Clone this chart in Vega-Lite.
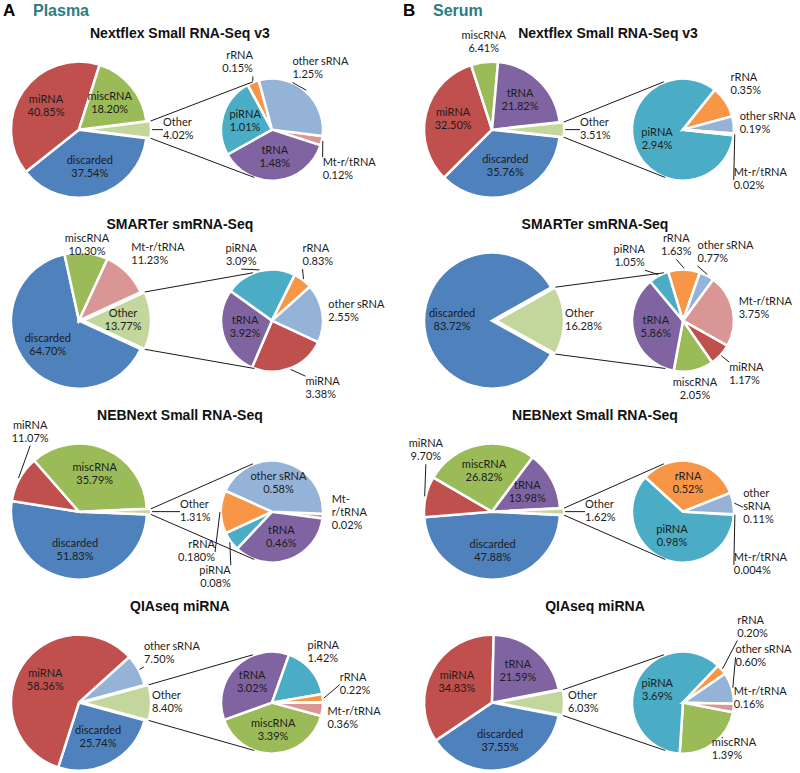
{
  "$schema": "https://vega.github.io/schema/vega-lite/v6.json",
  "background": "white",
  "padding": {"left": 0, "top": 2, "right": 0, "bottom": 0},
  "datasets": {
    "panels": [
      {"panel": "P1", "sample": "Plasma", "tag": "A", "kit": "Nextflex Small RNA-Seq v3"},
      {"panel": "S1", "sample": "Serum", "tag": "B", "kit": "Nextflex Small RNA-Seq v3"},
      {"panel": "P2", "sample": "Plasma", "tag": "A", "kit": "SMARTer smRNA-Seq"},
      {"panel": "S2", "sample": "Serum", "tag": "B", "kit": "SMARTer smRNA-Seq"},
      {"panel": "P3", "sample": "Plasma", "tag": "A", "kit": "NEBNext Small RNA-Seq"},
      {"panel": "S3", "sample": "Serum", "tag": "B", "kit": "NEBNext Small RNA-Seq"},
      {"panel": "P4", "sample": "Plasma", "tag": "A", "kit": "QIAseq miRNA"},
      {"panel": "S4", "sample": "Serum", "tag": "B", "kit": "QIAseq miRNA"}
    ]
  },
  "data": {"values": [
    {"panel": "P1", "pie": "main", "cat": "discarded", "value": 37.54, "pct": "37.54%"},
    {"panel": "P1", "pie": "main", "cat": "miRNA", "value": 40.85, "pct": "40.85%"},
    {"panel": "P1", "pie": "main", "cat": "miscRNA", "value": 18.20, "pct": "18.20%"},
    {"panel": "P1", "pie": "main", "cat": "Other", "value": 4.02, "pct": "4.02%"},
    {"panel": "P1", "pie": "sub", "cat": "Mt-r/tRNA", "value": 0.12, "pct": "0.12%"},
    {"panel": "P1", "pie": "sub", "cat": "tRNA", "value": 1.48, "pct": "1.48%"},
    {"panel": "P1", "pie": "sub", "cat": "piRNA", "value": 1.01, "pct": "1.01%"},
    {"panel": "P1", "pie": "sub", "cat": "rRNA", "value": 0.15, "pct": "0.15%"},
    {"panel": "P1", "pie": "sub", "cat": "other sRNA", "value": 1.25, "pct": "1.25%"},
    {"panel": "S1", "pie": "main", "cat": "discarded", "value": 35.76, "pct": "35.76%"},
    {"panel": "S1", "pie": "main", "cat": "miRNA", "value": 32.50, "pct": "32.50%"},
    {"panel": "S1", "pie": "main", "cat": "miscRNA", "value": 6.41, "pct": "6.41%"},
    {"panel": "S1", "pie": "main", "cat": "tRNA", "value": 21.82, "pct": "21.82%"},
    {"panel": "S1", "pie": "main", "cat": "Other", "value": 3.51, "pct": "3.51%"},
    {"panel": "S1", "pie": "sub", "cat": "piRNA", "value": 2.94, "pct": "2.94%"},
    {"panel": "S1", "pie": "sub", "cat": "rRNA", "value": 0.35, "pct": "0.35%"},
    {"panel": "S1", "pie": "sub", "cat": "other sRNA", "value": 0.19, "pct": "0.19%"},
    {"panel": "S1", "pie": "sub", "cat": "Mt-r/tRNA", "value": 0.02, "pct": "0.02%"},
    {"panel": "P2", "pie": "main", "cat": "discarded", "value": 64.70, "pct": "64.70%"},
    {"panel": "P2", "pie": "main", "cat": "miscRNA", "value": 10.30, "pct": "10.30%"},
    {"panel": "P2", "pie": "main", "cat": "Mt-r/tRNA", "value": 11.23, "pct": "11.23%"},
    {"panel": "P2", "pie": "main", "cat": "Other", "value": 13.77, "pct": "13.77%"},
    {"panel": "P2", "pie": "sub", "cat": "miRNA", "value": 3.38, "pct": "3.38%"},
    {"panel": "P2", "pie": "sub", "cat": "tRNA", "value": 3.92, "pct": "3.92%"},
    {"panel": "P2", "pie": "sub", "cat": "piRNA", "value": 3.09, "pct": "3.09%"},
    {"panel": "P2", "pie": "sub", "cat": "rRNA", "value": 0.83, "pct": "0.83%"},
    {"panel": "P2", "pie": "sub", "cat": "other sRNA", "value": 2.55, "pct": "2.55%"},
    {"panel": "S2", "pie": "main", "cat": "discarded", "value": 83.72, "pct": "83.72%"},
    {"panel": "S2", "pie": "main", "cat": "Other", "value": 16.28, "pct": "16.28%"},
    {"panel": "S2", "pie": "sub", "cat": "miRNA", "value": 1.17, "pct": "1.17%"},
    {"panel": "S2", "pie": "sub", "cat": "miscRNA", "value": 2.05, "pct": "2.05%"},
    {"panel": "S2", "pie": "sub", "cat": "tRNA", "value": 5.86, "pct": "5.86%"},
    {"panel": "S2", "pie": "sub", "cat": "piRNA", "value": 1.05, "pct": "1.05%"},
    {"panel": "S2", "pie": "sub", "cat": "rRNA", "value": 1.63, "pct": "1.63%"},
    {"panel": "S2", "pie": "sub", "cat": "other sRNA", "value": 0.77, "pct": "0.77%"},
    {"panel": "S2", "pie": "sub", "cat": "Mt-r/tRNA", "value": 3.75, "pct": "3.75%"},
    {"panel": "P3", "pie": "main", "cat": "discarded", "value": 51.83, "pct": "51.83%"},
    {"panel": "P3", "pie": "main", "cat": "miRNA", "value": 11.07, "pct": "11.07%"},
    {"panel": "P3", "pie": "main", "cat": "miscRNA", "value": 35.79, "pct": "35.79%"},
    {"panel": "P3", "pie": "main", "cat": "Other", "value": 1.31, "pct": "1.31%"},
    {"panel": "P3", "pie": "sub", "cat": "Mt-r/tRNA", "value": 0.02, "pct": "0.02%"},
    {"panel": "P3", "pie": "sub", "cat": "tRNA", "value": 0.46, "pct": "0.46%"},
    {"panel": "P3", "pie": "sub", "cat": "piRNA", "value": 0.08, "pct": "0.08%"},
    {"panel": "P3", "pie": "sub", "cat": "rRNA", "value": 0.18, "pct": "0.180%"},
    {"panel": "P3", "pie": "sub", "cat": "other sRNA", "value": 0.58, "pct": "0.58%"},
    {"panel": "S3", "pie": "main", "cat": "discarded", "value": 47.88, "pct": "47.88%"},
    {"panel": "S3", "pie": "main", "cat": "miRNA", "value": 9.70, "pct": "9.70%"},
    {"panel": "S3", "pie": "main", "cat": "miscRNA", "value": 26.82, "pct": "26.82%"},
    {"panel": "S3", "pie": "main", "cat": "tRNA", "value": 13.98, "pct": "13.98%"},
    {"panel": "S3", "pie": "main", "cat": "Other", "value": 1.62, "pct": "1.62%"},
    {"panel": "S3", "pie": "sub", "cat": "Mt-r/tRNA", "value": 0.004, "pct": "0.004%"},
    {"panel": "S3", "pie": "sub", "cat": "piRNA", "value": 0.98, "pct": "0.98%"},
    {"panel": "S3", "pie": "sub", "cat": "rRNA", "value": 0.52, "pct": "0.52%"},
    {"panel": "S3", "pie": "sub", "cat": "other sRNA", "value": 0.11, "pct": "0.11%"},
    {"panel": "P4", "pie": "main", "cat": "discarded", "value": 25.74, "pct": "25.74%"},
    {"panel": "P4", "pie": "main", "cat": "miRNA", "value": 58.36, "pct": "58.36%"},
    {"panel": "P4", "pie": "main", "cat": "other sRNA", "value": 7.50, "pct": "7.50%"},
    {"panel": "P4", "pie": "main", "cat": "Other", "value": 8.40, "pct": "8.40%"},
    {"panel": "P4", "pie": "sub", "cat": "miscRNA", "value": 3.39, "pct": "3.39%"},
    {"panel": "P4", "pie": "sub", "cat": "tRNA", "value": 3.02, "pct": "3.02%"},
    {"panel": "P4", "pie": "sub", "cat": "piRNA", "value": 1.42, "pct": "1.42%"},
    {"panel": "P4", "pie": "sub", "cat": "rRNA", "value": 0.22, "pct": "0.22%"},
    {"panel": "P4", "pie": "sub", "cat": "Mt-r/tRNA", "value": 0.36, "pct": "0.36%"},
    {"panel": "S4", "pie": "main", "cat": "discarded", "value": 37.55, "pct": "37.55%"},
    {"panel": "S4", "pie": "main", "cat": "miRNA", "value": 34.83, "pct": "34.83%"},
    {"panel": "S4", "pie": "main", "cat": "tRNA", "value": 21.59, "pct": "21.59%"},
    {"panel": "S4", "pie": "main", "cat": "Other", "value": 6.03, "pct": "6.03%"},
    {"panel": "S4", "pie": "sub", "cat": "miscRNA", "value": 1.39, "pct": "1.39%"},
    {"panel": "S4", "pie": "sub", "cat": "piRNA", "value": 3.69, "pct": "3.69%"},
    {"panel": "S4", "pie": "sub", "cat": "rRNA", "value": 0.20, "pct": "0.20%"},
    {"panel": "S4", "pie": "sub", "cat": "other sRNA", "value": 0.60, "pct": "0.60%"},
    {"panel": "S4", "pie": "sub", "cat": "Mt-r/tRNA", "value": 0.16, "pct": "0.16%"}
  ]},
  "transform": [
    {"lookup": "panel", "from": {"data": {"name": "panels"}, "key": "panel", "fields": ["sample", "tag", "kit"]}},
    {"window": [{"op": "row_number", "as": "rn"}], "groupby": ["panel", "pie"]},
    {"stack": "value", "groupby": ["panel", "pie"], "sort": [{"field": "rn", "order": "ascending"}], "offset": "normalize", "as": ["v0", "v1"]},
    {"calculate": "datum.pie == 'main' ? datum.value : 0", "as": "mv"},
    {"calculate": "datum.pie == 'main' && datum.cat == 'Other' ? datum.value : 0", "as": "ov"},
    {"joinaggregate": [{"op": "sum", "field": "mv", "as": "M"}, {"op": "sum", "field": "ov", "as": "O"}], "groupby": ["panel"]},
    {"calculate": "datum.O / datum.M", "as": "f"},
    {"calculate": "0.25 + datum.f / 2", "as": "s"},
    {"calculate": "datum.s + datum.v0", "as": "t0"},
    {"calculate": "datum.s + datum.v1", "as": "t1"},
    {"calculate": "datum.s + (datum.v0 + datum.v1) / 2", "as": "tm"},
    {"calculate": "datum.sample == 'Plasma' ? -0.074 : 0.118", "as": "mcx"},
    {"calculate": "datum.sample == 'Plasma' ? 2.765 : 2.926", "as": "scx"},
    {"calculate": "datum.sample == 'Plasma' ? 1.41 : (datum.panel == 'S1' ? 1.824 : 1.632)", "as": "tx"},
    {"calculate": "datum.pie == 'main' ? datum.mcx + (datum.cat == 'Other' ? 0.06 : 0) : datum.scx", "as": "cxp"},
    {"calculate": "datum.cxp + cos(PI * datum.f)", "as": "cxu"},
    {"calculate": "sin(PI * datum.f)", "as": "cyu"},
    {"calculate": "-sin(PI * datum.f)", "as": "cyl"},
    {"calculate": "datum.scx - 0.28", "as": "ux2"},
    {"calculate": "datum.scx - 0.26", "as": "lx2"},
    {"calculate": "sin(2 * PI * datum.tm)", "as": "sx"},
    {"calculate": "cos(2 * PI * datum.tm)", "as": "cy"},
    {"calculate": "datum.panel + '|' + datum.cat", "as": "k"},
    {"calculate": "({'P1|Other':[6,0],'P1|rRNA':[2,0],'P1|other sRNA':[-17,-4],'P1|Mt-r/tRNA':[-5,15,'left','top'],'S1|miscRNA':[0,0],'S1|Other':[10,0],'S1|Mt-r/tRNA':[-6,45],'P2|miscRNA':[0,12],'P2|piRNA':[-17,4],'P2|rRNA':[-4,-6],'P2|miRNA':[13,2],'S2|Other':[-5,0],'S2|miRNA':[4,3],'S2|rRNA':[-8,-4],'S2|other sRNA':[-12,-4],'S2|piRNA':[-11,0],'P3|miRNA':[16,-30,'center','bottom'],'P3|Other':[23,0],'P3|rRNA':[0,40],'P3|piRNA':[5,20],'P3|Mt-r/tRNA':[3,-3],'S3|miRNA':[6,-31,'center','bottom'],'S3|Other':[15,0],'S3|Mt-r/tRNA':[-6,50],'S3|other sRNA':[4,5],'P4|Other':[-5,0],'P4|piRNA':[-8,0],'P4|rRNA':[11,-13],'P4|Mt-r/tRNA':[-1,-4,'left','top'],'S4|Other':[-2,0],'S4|miscRNA':[-6,-11],'S4|rRNA':[11,-25],'S4|other sRNA':[-2,-29],'S4|Mt-r/tRNA':[-6,-10]})[datum.k] || [0, 0]", "as": "nd"},
    {"calculate": "datum.nd[2] || (datum.sx > 0.35 ? 'left' : (datum.sx < -0.35 ? 'right' : 'center'))", "as": "al"},
    {"calculate": "datum.nd[3] || (datum.cy > 0.35 ? 'bottom' : (datum.cy < -0.35 ? 'top' : 'middle'))", "as": "bl"},
    {"calculate": "datum.pie == 'main' ? 1 : 0.75", "as": "Rp"},
    {"calculate": "datum.cxp + (datum.Rp + 0.088) * datum.sx + datum.nd[0] / 68", "as": "lx"},
    {"calculate": "(datum.Rp + 0.088) * datum.cy - datum.nd[1] / 68.36", "as": "ly"},
    {"calculate": "datum.cxp + (datum.Rp + 0.015) * datum.sx", "as": "ex"},
    {"calculate": "(datum.Rp + 0.015) * datum.cy", "as": "ey"},
    {"calculate": "indexof(['P1|discarded','P1|miRNA','P1|miscRNA','P1|tRNA','P1|piRNA','S1|discarded','S1|miRNA','S1|tRNA','S1|piRNA','P2|discarded','P2|Other','P2|tRNA','S2|discarded','S2|tRNA','P3|discarded','P3|miscRNA','P3|tRNA','P3|other sRNA','S3|discarded','S3|miscRNA','S3|tRNA','S3|piRNA','S3|rRNA','P4|discarded','P4|miRNA','P4|miscRNA','P4|tRNA','S4|discarded','S4|miRNA','S4|tRNA','S4|piRNA'], datum.k) >= 0", "as": "inside"},
    {"calculate": "indexof(['P1|Other','P1|rRNA','P1|other sRNA','P1|Mt-r/tRNA','S1|Other','S1|Mt-r/tRNA','P2|piRNA','P2|rRNA','P2|miRNA','S2|piRNA','S2|rRNA','S2|other sRNA','S2|miRNA','P3|miRNA','P3|Other','P3|rRNA','P3|piRNA','S3|miRNA','S3|Other','S3|other sRNA','S3|Mt-r/tRNA','P4|other sRNA','P4|rRNA','S4|rRNA','S4|other sRNA'], datum.k) >= 0", "as": "lead"},
    {"calculate": "datum.k == 'S3|other sRNA' ? 'other\\nsRNA\\n' + datum.pct : (datum.k == 'P3|Mt-r/tRNA' ? 'Mt-\\nr/tRNA\\n' + datum.pct : datum.cat + '\\n' + datum.pct)", "as": "lbl"},
    {"calculate": "datum.k == 'S3|other sRNA' || datum.k == 'P3|Mt-r/tRNA' ? 3 : 2", "as": "nl"},
    {"calculate": "datum.bl == 'bottom' ? -13 * datum.nl : (datum.bl == 'top' ? 0 : -6.5 * datum.nl)", "as": "tdy"}
  ],
  "facet": {
    "row": {"field": "kit", "type": "nominal", "sort": ["Nextflex Small RNA-Seq v3", "SMARTer smRNA-Seq", "NEBNext Small RNA-Seq", "QIAseq miRNA"], "header": null},
    "column": {"field": "sample", "type": "nominal", "sort": ["Plasma", "Serum"], "header": null}
  },
  "bounds": "flush",
  "spacing": {"row": 0, "column": 10},
  "spec": {
    "width": 390,
    "height": 191,
    "layer": [
      {
        "transform": [{"filter": "datum.pie == 'main'"}],
        "mark": {"type": "arc", "outerRadius": 68, "stroke": "white", "strokeWidth": 2.5},
        "encoding": {
          "x": {"field": "cxp", "type": "quantitative", "stack": null, "scale": {"domain": [-1.235, 4.5], "nice": false, "zero": false}, "axis": null},
          "y": {"datum": 0, "type": "quantitative", "scale": {"domain": [-1.0, 1.794], "nice": false, "zero": false}, "axis": null},
          "theta": {"field": "t0", "type": "quantitative", "stack": null, "scale": {"domain": [0, 1], "nice": false, "zero": false}},
          "theta2": {"field": "t1"},
          "color": {"field": "cat", "type": "nominal", "legend": null,
            "scale": {"domain": ["discarded", "miRNA", "miscRNA", "Other", "tRNA", "piRNA", "rRNA", "other sRNA", "Mt-r/tRNA"],
                      "range": ["#4F81BD", "#C0504D", "#9BBB59", "#C3D69B", "#8064A2", "#4BACC6", "#F79646", "#95B3D7", "#D99694"]}}
        }
      },
      {
        "transform": [{"filter": "datum.pie == 'sub'"}],
        "mark": {"type": "arc", "outerRadius": 51, "stroke": "white", "strokeWidth": 2.5},
        "encoding": {
          "x": {"field": "cxp", "type": "quantitative", "stack": null},
          "y": {"datum": 0, "type": "quantitative"},
          "theta": {"field": "t0", "type": "quantitative", "stack": null},
          "theta2": {"field": "t1"},
          "color": {"field": "cat", "type": "nominal", "legend": null}
        }
      },
      {
        "transform": [{"filter": "datum.pie == 'main' && datum.cat == 'Other'"}],
        "mark": {"type": "rule", "color": "#1a1a1a", "strokeWidth": 1},
        "encoding": {
          "x": {"field": "cxu", "type": "quantitative"},
          "y": {"field": "cyu", "type": "quantitative"},
          "x2": {"field": "ux2"},
          "y2": {"datum": 0.70}
        }
      },
      {
        "transform": [{"filter": "datum.pie == 'main' && datum.cat == 'Other'"}],
        "mark": {"type": "rule", "color": "#1a1a1a", "strokeWidth": 1},
        "encoding": {
          "x": {"field": "cxu", "type": "quantitative"},
          "y": {"field": "cyl", "type": "quantitative"},
          "x2": {"field": "lx2"},
          "y2": {"datum": -0.70}
        }
      },
      {
        "transform": [{"filter": "datum.lead && !datum.inside"}],
        "mark": {"type": "rule", "color": "#1a1a1a", "strokeWidth": 1},
        "encoding": {
          "x": {"field": "ex", "type": "quantitative"},
          "y": {"field": "ey", "type": "quantitative"},
          "x2": {"field": "lx"},
          "y2": {"field": "ly"}
        }
      },
      {
        "transform": [{"filter": "datum.pie == 'main' && datum.inside"}],
        "mark": {"type": "text", "radius": 40, "font": "Lato", "fontSize": 11, "lineBreak": "\n", "lineHeight": 13, "color": "#1c1c1c", "align": "center", "baseline": "top", "dy": -13},
        "encoding": {
          "x": {"field": "cxp", "type": "quantitative", "stack": null},
          "y": {"datum": 0, "type": "quantitative"},
          "theta": {"field": "tm", "type": "quantitative", "stack": null},
          "text": {"field": "lbl", "type": "nominal"}
        }
      },
      {
        "transform": [{"filter": "datum.pie == 'sub' && datum.inside"}],
        "mark": {"type": "text", "radius": 28, "font": "Lato", "fontSize": 11, "lineBreak": "\n", "lineHeight": 13, "color": "#1c1c1c", "align": "center", "baseline": "top", "dy": -13},
        "encoding": {
          "x": {"field": "cxp", "type": "quantitative", "stack": null},
          "y": {"datum": 0, "type": "quantitative"},
          "theta": {"field": "tm", "type": "quantitative", "stack": null},
          "text": {"field": "lbl", "type": "nominal"}
        }
      },
      {
        "transform": [{"filter": "!datum.inside"}],
        "mark": {"type": "text", "font": "Lato", "fontSize": 11, "lineBreak": "\n", "lineHeight": 13, "color": "#1c1c1c", "align": {"expr": "datum.al"}, "baseline": "top", "dy": {"expr": "datum.tdy"}},
        "encoding": {
          "x": {"field": "lx", "type": "quantitative", "stack": null},
          "y": {"field": "ly", "type": "quantitative", "stack": null},
          "text": {"field": "lbl", "type": "nominal"}
        }
      },
      {
        "transform": [{"filter": "datum.pie == 'main' && datum.cat == 'Other'"}],
        "mark": {"type": "text", "font": "Liberation Sans", "fontWeight": "bold", "fontSize": 14, "color": "#111111", "align": "center", "baseline": "middle"},
        "encoding": {
          "x": {"field": "tx", "type": "quantitative", "stack": null},
          "y": {"datum": 1.398, "type": "quantitative"},
          "text": {"field": "kit", "type": "nominal"}
        }
      },
      {
        "transform": [{"filter": "datum.pie == 'main' && datum.cat == 'Other' && datum.kit == 'Nextflex Small RNA-Seq v3'"}],
        "mark": {"type": "text", "font": "Liberation Sans", "fontWeight": "bold", "fontSize": 17, "color": "#000000", "align": "left", "baseline": "alphabetic"},
        "encoding": {
          "x": {"datum": -1.19, "type": "quantitative"},
          "y": {"datum": 1.662, "type": "quantitative"},
          "text": {"field": "tag", "type": "nominal"}
        }
      },
      {
        "transform": [{"filter": "datum.pie == 'main' && datum.cat == 'Other' && datum.kit == 'Nextflex Small RNA-Seq v3'"}],
        "mark": {"type": "text", "font": "Liberation Sans", "fontWeight": "bold", "fontSize": 16, "color": "#2A7C84", "align": "left", "baseline": "alphabetic"},
        "encoding": {
          "x": {"datum": -0.75, "type": "quantitative"},
          "y": {"datum": 1.662, "type": "quantitative"},
          "text": {"field": "sample", "type": "nominal"}
        }
      }
    ]
  },
  "config": {"view": {"stroke": null}}
}
